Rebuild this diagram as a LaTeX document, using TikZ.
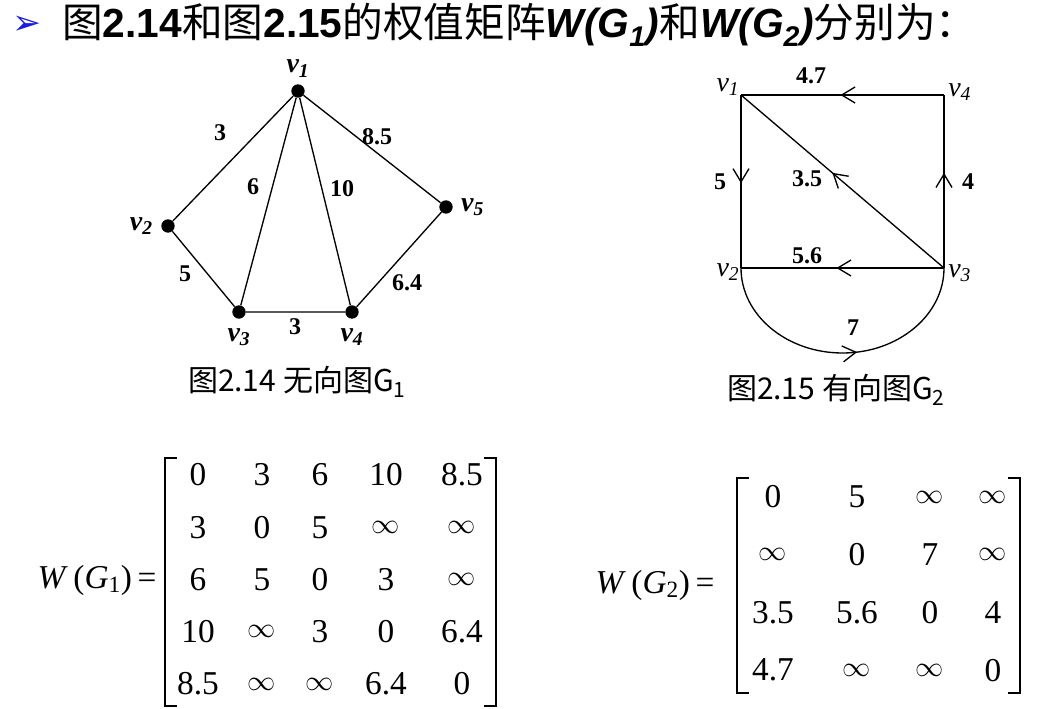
\documentclass[tikz,border=0pt]{standalone}
\usepackage{graphicx}
\usepackage{fontspec}
\setmainfont{Liberation Serif}
\newfontfamily\cjkfont{Noto Sans CJK SC}
\newfontfamily\headfont{Liberation Sans}
\newfontfamily\symbfont{DejaVu Sans}
\usetikzlibrary{arrows.meta,positioning,decorations.markings}
\definecolor{bulletblue}{HTML}{1A1AE6}
\newcommand\infent{\scalebox{0.85}{$\infty$}}

\begin{document}
\begin{tikzpicture}[
  x=0.75pt, y=-0.75pt,
  dot/.style={circle, fill, inner sep=0pt, minimum size=10pt},
  vlab/.style={font=\fontsize{21}{24}\selectfont\bfseries\itshape, inner sep=1pt},
  glab/.style={font=\fontsize{21}{24}\selectfont\itshape, inner sep=1pt},
  wlab/.style={font=\fontsize{18}{20}\selectfont\bfseries, inner sep=1pt},
  edge/.style={line width=1pt},
  midarrow/.style={edge, postaction={decorate},
    decoration={markings, mark=at position #1 with {\arrow{Straight Barb[length=10pt,width=12pt]}}}},
  entry/.style={font=\fontsize{25}{30}\selectfont, inner sep=0pt},
  bracket/.style={line width=1.5pt},
  caption/.style={font=\cjkfont\fontsize{22.5}{26}\selectfont, inner sep=0pt}
]
\useasboundingbox (0,0) rectangle (1053,709);

% heading
\node[anchor=base west, inner sep=0pt, font=\cjkfont\fontsize{30.5}{36}\selectfont] (title) at (62,38)
  {图{\headfont\bfseries 2.14}和图{\headfont\bfseries 2.15}的权值矩阵{\headfont\bfseries\itshape W(G\textsubscript{1})}和{\headfont\bfseries\itshape W(G\textsubscript{2})}分别为：};
\node[text=bulletblue, font=\symbfont\fontsize{26}{28}\selectfont, inner sep=0pt] (bullet) at (27,25) {➢};

% undirected graph G1
\node[dot] (a1) at (298,91) {};
\node[dot] (a2) at (168,226) {};
\node[dot] (a3) at (239,312) {};
\node[dot] (a4) at (352,312) {};
\node[dot] (a5) at (446,207) {};
\draw[edge] (a1) -- (a2) -- (a3) -- (a4) -- (a5) -- (a1);
\draw[edge] (a1) -- (a3) (a1) -- (a4);
\node[vlab, above=4pt of a1] (la1) {v\textsubscript{1}};
\node[vlab, left=5pt of a2] (la2) {v\textsubscript{2}};
\node[vlab, below=6pt of a3] (la3) {v\textsubscript{3}};
\node[vlab, below=6pt of a4] (la4) {v\textsubscript{4}};
\node[vlab, right=5pt of a5] (la5) {v\textsubscript{5}};
\node[wlab] (w12) at (220,133) {3};
\node[wlab] (w13) at (253,187) {6};
\node[wlab] (w14) at (342,189) {10};
\node[wlab] (w15) at (377,137) {8.5};
\node[wlab] (w23) at (185,274) {5};
\node[wlab] (w34) at (295,327) {3};
\node[wlab] (w45) at (407,283) {6.4};
\node[caption] (cap1) at (297,382) {图2.14\ 无向图G\textsubscript{1}};

% directed graph G2
\coordinate (b1) at (741,95);
\coordinate (b2) at (741,268);
\coordinate (b3) at (944,268);
\coordinate (b4) at (944,95);
\draw[midarrow=0.51] (b4) -- (b1);
\draw[midarrow=0.51] (b1) -- (b2);
\draw[midarrow=0.55] (b3) -- (b1);
\draw[midarrow=0.55] (b3) -- (b4);
\draw[midarrow=0.53] (b3) -- (b2);
\draw[midarrow=0.55] (b2) arc[start angle=180, end angle=0, x radius=101.5, y radius=85];
\node[glab, left=0pt of b1, yshift=6pt] (lb1) {v\textsubscript{1}};
\node[glab, left=0pt of b2, yshift=-3pt] (lb2) {v\textsubscript{2}};
\node[glab, right=2pt of b3, yshift=-4pt] (lb3) {v\textsubscript{3}};
\node[glab, right=2pt of b4, yshift=2pt] (lb4) {v\textsubscript{4}};
\node[wlab] (u41) at (811,76) {4.7};
\node[wlab] (u12) at (720,182) {5};
\node[wlab] (u31) at (807,179) {3.5};
\node[wlab] (u34) at (968,182) {4};
\node[wlab] (u32) at (807,256) {5.6};
\node[wlab] (u23) at (853,328) {7};
\node[caption] (cap2) at (836,390) {图2.15\ 有向图G\textsubscript{2}};

% weight matrices
\node[entry] (wg1) at (97,580) {\textit{W}\,(\textit{G}\textsubscript{1})\,=};
\foreach \row [count=\i] in {{0,3,6,10,8.5},{3,0,5,\infent,\infent},{6,5,0,3,\infent},{10,\infent,3,0,6.4},{8.5,\infent,\infent,6.4,0}} {
  \foreach \e [count=\j] in \row {
    \pgfmathsetmacro{\cx}{{198,262,320,386,462}[\j-1]}
    \node[entry] (p\i\j) at (\cx,422.75+52.25*\i) {\e};
  }
}
\draw[bracket] (177,458) -- (165,458) -- (165,706) -- (177,706);
\draw[bracket] (484,458) -- (496,458) -- (496,706) -- (484,706);

\node[entry] (wg2) at (655,585) {\textit{W}\,(\textit{G}\textsubscript{2})\,=};
\foreach \row [count=\i] in {{0,5,\infent,\infent},{\infent,0,7,\infent},{3.5,5.6,0,4},{4.7,\infent,\infent,0}} {
  \foreach \e [count=\j] in \row {
    \pgfmathsetmacro{\cx}{{773,857,930,993}[\j-1]}
    \node[entry] (q\i\j) at (\cx,439.3+57.7*\i) {\e};
  }
}
\draw[bracket] (749,478) -- (737,478) -- (737,693) -- (749,693);
\draw[bracket] (1008,478) -- (1020,478) -- (1020,693) -- (1008,693);
\end{tikzpicture}
\end{document}
